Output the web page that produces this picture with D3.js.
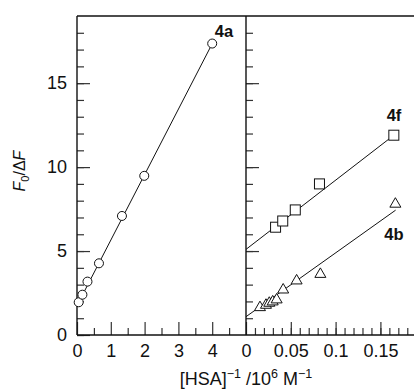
<!DOCTYPE html>
<html>
<head>
<meta charset="utf-8">
<script src="https://cdn.jsdelivr.net/npm/d3@7"></script>
<style>
  body { margin: 0; background: #fff; }
  svg text { font-family: "Liberation Sans", Arial, sans-serif; }
  .tick text { font-size: 18px; fill: #111; }
</style>
</head>
<body>
<div id="chart"></div>
<script>
// data
const x4a = [0.05, 0.16, 0.31, 0.65, 1.33, 1.99, 4.0];
const y4a = [1.95, 2.4, 3.18, 4.27, 7.09, 9.48, 17.36];

const x4f = [0.033, 0.041, 0.055, 0.082, 0.165];
const y4f = [6.42, 6.79, 7.45, 9.0, 11.9];

const x4b = [0.0156, 0.0223, 0.026, 0.0298, 0.0342, 0.0415, 0.0565, 0.083, 0.1667];
const y4b = [1.69, 1.83, 1.95, 2.03, 2.15, 2.74, 3.28, 3.67, 7.85];

// fitted lines: [intercept, slope, xStart, xEnd]
const fit4a = [1.75, 3.9, 0.05, 4.0];
const fit4f = [5.1, 41.2, 0, 0.165];
const fit4b = [1.09, 38, 0, 0.167];

const leftTicks = [0, 1, 2, 3, 4];
const rightTicks = [0, 0.05, 0.1, 0.15];
const yTicks = [0, 5, 10, 15];

const W = 414, H = 391;
const plotTop = 16, plotBottom = 335, xL0 = 77, xMid = 246;

const svg = d3.select('#chart').append('svg')
  .attr('width', W).attr('height', H).style('display', 'block');

const y = d3.scaleLinear().domain([0, 19]).range([plotBottom, plotTop]);
const xL = d3.scaleLinear().domain([0, 5]).range([xL0, xMid]);
const xR = d3.scaleLinear().domain([0, 0.1875]).range([xMid, W]);

const ink = '#111';

// axis without its domain path
function axisBits(g, axis) {
  g.call(axis);
  g.select('.domain').remove();
  g.selectAll('.tick line').attr('stroke', '#333').attr('stroke-width', 1.2);
}

// left panel y axis (ticks point inward)
svg.append('g').attr('transform', `translate(${xL0},0)`)
  .call(g => axisBits(g, d3.axisLeft(y).tickValues(d3.range(0, 19, 1)).tickSize(-7).tickFormat('')));
svg.append('g').attr('transform', `translate(${xL0},0)`)
  .call(g => axisBits(g, d3.axisLeft(y).tickValues(yTicks).tickSize(-13).tickPadding(10).tickFormat(d3.format('d'))));

// right panel y ticks on the divider
svg.append('g').attr('transform', `translate(${xMid},0)`)
  .call(g => axisBits(g, d3.axisLeft(y).tickValues(d3.range(1, 19, 1)).tickSize(-7).tickFormat('')));
svg.append('g').attr('transform', `translate(${xMid},0)`)
  .call(g => axisBits(g, d3.axisLeft(y).tickValues([5, 10, 15]).tickSize(-13).tickFormat('')));

// bottom axes
svg.append('g').attr('transform', `translate(0,${plotBottom})`)
  .call(g => axisBits(g, d3.axisBottom(xL).tickValues(d3.range(0.5, 5, 1)).tickSize(-7).tickFormat('')));
svg.append('g').attr('transform', `translate(0,${plotBottom})`)
  .call(g => axisBits(g, d3.axisBottom(xL).tickValues(leftTicks).tickSize(-13).tickPadding(9).tickFormat(d3.format('d'))));

svg.append('g').attr('transform', `translate(0,${plotBottom})`)
  .call(g => axisBits(g, d3.axisBottom(xR).tickValues(d3.range(1, 19).map(i => i * 0.01)).tickSize(-7).tickFormat('')));
svg.append('g').attr('transform', `translate(0,${plotBottom})`)
  .call(g => axisBits(g, d3.axisBottom(xR).tickValues(rightTicks).tickSize(-13).tickPadding(9).tickFormat(d => String(+d.toFixed(2)))));

// frame
const frame = svg.append('g').attr('stroke', ink).attr('stroke-width', 1.4).attr('fill', 'none');
frame.append('line').attr('x1', xL0).attr('x2', W).attr('y1', plotTop).attr('y2', plotTop);
frame.append('line').attr('x1', xL0).attr('x2', W).attr('y1', plotBottom).attr('y2', plotBottom);
frame.append('line').attr('x1', xL0).attr('x2', xL0).attr('y1', plotTop).attr('y2', plotBottom);
frame.append('line').attr('x1', xMid).attr('x2', xMid).attr('y1', plotTop).attr('y2', plotBottom);

// fit lines
function fitLine(fit, x) {
  const [b, m, x1, x2] = fit;
  svg.append('line')
    .attr('x1', x(x1)).attr('y1', y(b + m * x1))
    .attr('x2', x(x2)).attr('y2', y(b + m * x2))
    .attr('stroke', ink).attr('stroke-width', 1);
}
fitLine(fit4a, xL);
fitLine(fit4f, xR);
fitLine(fit4b, xR);

// markers
svg.append('g').selectAll('circle')
  .data(x4a.map((d, i) => [d, y4a[i]]))
  .join('circle')
  .attr('cx', d => xL(d[0])).attr('cy', d => y(d[1])).attr('r', 4.5)
  .attr('fill', '#fff').attr('stroke', ink).attr('stroke-width', 1);

svg.append('g').selectAll('rect')
  .data(x4f.map((d, i) => [d, y4f[i]]))
  .join('rect')
  .attr('x', d => xR(d[0]) - 5).attr('y', d => y(d[1]) - 5)
  .attr('width', 10).attr('height', 10)
  .attr('fill', '#fff').attr('stroke', ink).attr('stroke-width', 1);

svg.append('g').selectAll('path')
  .data(x4b.map((d, i) => [d, y4b[i]]))
  .join('path')
  .attr('d', d => {
    const cx = xR(d[0]), cy = y(d[1]);
    return `M${cx},${cy - 5.5}L${cx + 5.5},${cy + 4}L${cx - 5.5},${cy + 4}Z`;
  })
  .attr('fill', '#fff').attr('stroke', ink).attr('stroke-width', 1);

// series labels
const lab = svg.append('g').attr('font-size', 16.5).attr('font-weight', 'bold')
  .attr('fill', ink).attr('text-anchor', 'middle');
lab.append('text').attr('x', 224).attr('y', 36.5).text('4a');
lab.append('text').attr('x', 394).attr('y', 120.5).text('4f');
lab.append('text').attr('x', 394).attr('y', 240).text('4b');

// y label
const yl = svg.append('text')
  .attr('transform', 'translate(25,171) rotate(-90)')
  .attr('text-anchor', 'middle').attr('font-size', 16).attr('fill', ink);
yl.append('tspan').attr('font-style', 'italic').text('F');
yl.append('tspan').attr('font-size', 11).attr('dy', 4).text('0');
yl.append('tspan').attr('dy', -4).text('/Δ');
yl.append('tspan').attr('font-style', 'italic').text('F');

// x label
const xl = svg.append('text')
  .attr('x', 246).attr('y', 385)
  .attr('text-anchor', 'middle').attr('font-size', 18).attr('fill', ink);
xl.append('tspan').text('[HSA]');
xl.append('tspan').attr('font-size', 12.5).attr('dy', -7).text('−1');
xl.append('tspan').attr('dy', 7).text(' /10');
xl.append('tspan').attr('font-size', 12.5).attr('dy', -7).text('6');
xl.append('tspan').attr('dy', 7).text(' M');
xl.append('tspan').attr('font-size', 12.5).attr('dy', -7).text('−1');
</script>
</body>
</html>
